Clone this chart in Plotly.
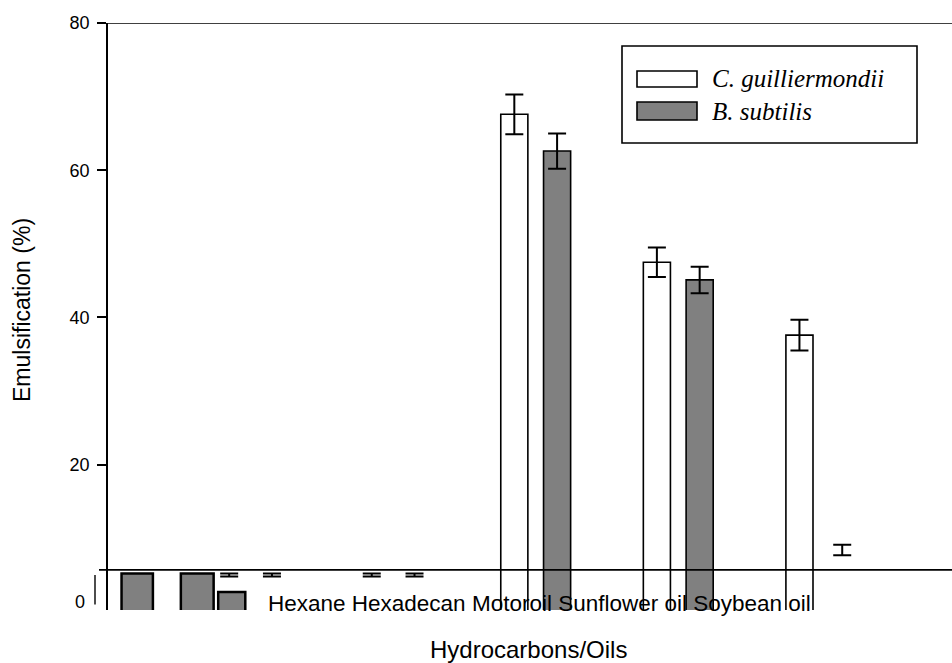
import plotly.graph_objects as go

categories = ["Hexane", "Hexadecan", "Motoroil", "Sunflower oil", "Soybean oil"]
c_vals = [5.0, 5.0, 67.6, 47.5, 37.6]
c_err = [0.2, 0.2, 2.7, 2.0, 2.1]
b_vals = [5.0, 5.0, 62.6, 45.1, 8.4]
b_err = [0.2, 0.2, 2.4, 1.8, 0.7]
c_shown = [False, False, True, True, True]
b_shown = [False, False, True, True, False]
# stray gray blocks visible at the left of the reference picture
stray_pos = [-0.795, -0.374, -0.132]
stray_vals = [5.2, 5.2, 2.7]
baseline = 5.7
yticks = [20, 40, 60, 80]

W, H = 952, 663
L, R, T, B = 108, 0, 23, 53
pw, ph = W - L - R, H - T - B

def px(x):
    return (x - L) / pw

def py(y):
    return (H - B - y) / ph

GRAY = "#808080"
idx = list(range(len(categories)))

fig = go.Figure()
fig.add_trace(go.Bar(
    x=idx, y=c_vals, name="C. guilliermondii", offset=-0.245, width=0.19,
    marker=dict(color=["white" if s else "rgba(0,0,0,0)" for s in c_shown],
                line=dict(color="black", width=[1.6 if s else 0 for s in c_shown])),
    error_y=dict(type="data", array=c_err, color="black", thickness=2, width=9),
    showlegend=False))
fig.add_trace(go.Bar(
    x=idx, y=b_vals, name="B. subtilis", offset=0.055, width=0.19,
    marker=dict(color=[GRAY if s else "rgba(0,0,0,0)" for s in b_shown],
                line=dict(color="black", width=[1.6 if s else 0 for s in b_shown])),
    error_y=dict(type="data", array=b_err, color="black", thickness=2, width=9),
    showlegend=False))
fig.add_trace(go.Bar(
    x=stray_pos, y=stray_vals, width=[0.22, 0.23, 0.19],
    marker=dict(color=GRAY, line=dict(color="black", width=2.5)),
    showlegend=False, hoverinfo="skip"))

shapes = [
    dict(type="line", xref="paper", yref="y", x0=px(99), x1=1, y0=80, y1=80,
         line=dict(color="black", width=1.6)),
    dict(type="line", xref="paper", yref="y", x0=px(99), x1=1, y0=baseline, y1=baseline,
         line=dict(color="black", width=1.6)),
    dict(type="line", xref="paper", yref="y", x0=px(95), x1=px(95), y0=1.0, y1=5.0,
         line=dict(color="black", width=1.4)),
    # legend box
    dict(type="rect", xref="paper", yref="paper", x0=px(622), x1=px(917), y0=py(46), y1=py(143),
         line=dict(color="black", width=1.6), fillcolor="white"),
    dict(type="rect", xref="paper", yref="paper", x0=px(637), x1=px(697), y0=py(71), y1=py(87),
         line=dict(color="black", width=1.6), fillcolor="white"),
    dict(type="rect", xref="paper", yref="paper", x0=px(637), x1=px(697), y0=py(102), y1=py(120),
         line=dict(color="black", width=1.6), fillcolor=GRAY),
]

annotations = [
    dict(text=" ".join(categories), xref="paper", yref="paper", x=px(266), y=py(603),
         xanchor="left", yanchor="middle", showarrow=False,
         font=dict(family="Liberation Sans, Arial", size=22.5, color="black")),
    dict(text="Hydrocarbons/Oils", xref="paper", yref="paper", x=px(528), y=py(649),
         xanchor="center", yanchor="middle", showarrow=False,
         font=dict(family="Liberation Sans, Arial", size=24, color="black")),
    dict(text="Emulsification (%)", xref="paper", yref="paper", x=px(22), y=py(310),
         xanchor="center", yanchor="middle", showarrow=False, textangle=-90,
         font=dict(family="Liberation Sans, Arial", size=23, color="black")),
    dict(text="0", xref="paper", yref="paper", x=px(87), y=py(602),
         xanchor="right", yanchor="middle", showarrow=False,
         font=dict(family="Liberation Sans, Arial", size=18, color="black")),
    dict(text="<i>C. guilliermondii</i>", xref="paper", yref="paper", x=px(710), y=py(79),
         xanchor="left", yanchor="middle", showarrow=False,
         font=dict(family="Liberation Serif, Times New Roman", size=25, color="black")),
    dict(text="<i>B. subtilis</i>", xref="paper", yref="paper", x=px(710), y=py(111),
         xanchor="left", yanchor="middle", showarrow=False,
         font=dict(family="Liberation Serif, Times New Roman", size=25, color="black")),
]

fig.update_layout(
    width=W, height=H,
    margin=dict(l=L, r=R, t=T, b=B, pad=0),
    paper_bgcolor="white", plot_bgcolor="white",
    barmode="overlay",
    shapes=shapes, annotations=annotations,
    font=dict(family="Liberation Sans, Arial", size=18, color="black"),
    xaxis=dict(range=[-1.0, 4.92], showticklabels=False, showgrid=False, zeroline=False,
               showline=False, ticks=""),
    yaxis=dict(range=[0.25, 80], tickvals=yticks, ticks="outside", ticklen=9, tickwidth=1.6,
               tickcolor="black", showline=True, linecolor="black", linewidth=1.6,
               showgrid=False, zeroline=False, ticklabelstandoff=4,
               tickfont=dict(family="Liberation Sans, Arial", size=18, color="black")),
)

fig.write_html("out.html")
